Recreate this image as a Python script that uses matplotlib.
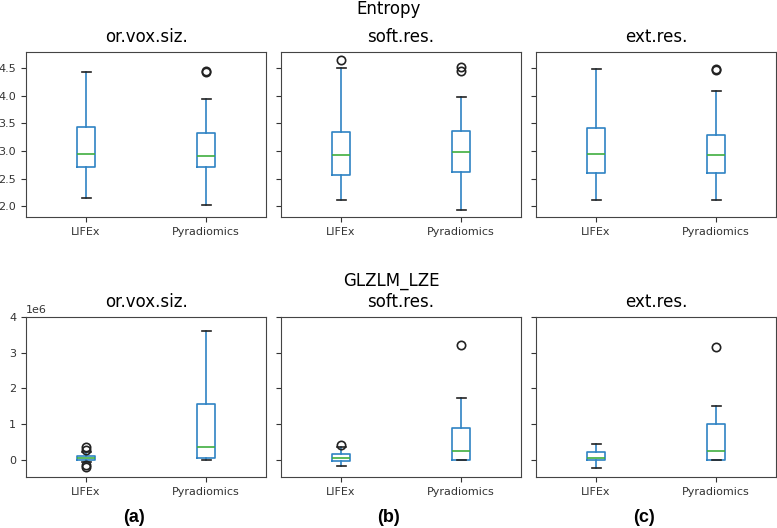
import matplotlib
matplotlib.use("Agg")
import matplotlib.pyplot as plt

# panel titles / groups
groups = ["LIFEx", "Pyradiomics"]
settings = ["or.vox.siz.", "soft.res.", "ext.res."]
panel_tags = ["(a)", "(b)", "(c)"]

# Entropy: per setting, per group -> (whislo, q1, med, q3, whishi, fliers)
entropy_lifex = [
    (2.15, 2.71, 2.95, 3.43, 4.43, []),
    (2.12, 2.57, 2.93, 3.34, 4.50, [4.65]),
    (2.12, 2.60, 2.94, 3.42, 4.48, []),
]
entropy_pyrad = [
    (2.02, 2.71, 2.92, 3.32, 3.95, [4.42, 4.44]),
    (1.93, 2.63, 2.98, 3.36, 3.98, [4.45, 4.52]),
    (2.12, 2.60, 2.93, 3.30, 4.09, [4.46, 4.48]),
]

# GLZLM_LZE (x1e6)
lze_lifex = [
    (-0.07, 0.00, 0.05, 0.12, 0.22, [0.28, 0.37, -0.14, -0.19]),
    (-0.18, -0.02, 0.05, 0.16, 0.36, [0.41]),
    (-0.22, 0.00, 0.04, 0.21, 0.44, []),
]
lze_pyrad = [
    (0.00, 0.05, 0.35, 1.57, 3.61, []),
    (0.00, 0.01, 0.26, 0.89, 1.73, [3.21]),
    (0.00, 0.01, 0.24, 1.00, 1.52, [3.16]),
]

W, H = 777, 528
fig = plt.figure(figsize=(W / 100, H / 100), dpi=100)

col_left = [26, 281, 536]
col_w = 240
rows = [(52, 217), (317, 477)]


def px_axes(x0, y0, y1):
    return fig.add_axes([x0 / W, 1 - y1 / H, col_w / W, (y1 - y0) / H])


def to_stats(entry, scale=1.0):
    lo, q1, med, q3, hi, fl = entry
    return dict(whislo=lo * scale, q1=q1 * scale, med=med * scale,
                q3=q3 * scale, whishi=hi * scale,
                fliers=[f * scale for f in fl])


blue = "#2f83c4"
green = "#3fae3f"


def draw_row(row, lifex, pyrad, scale, ylim, yticks):
    y0, y1 = rows[row]
    axes = []
    for i, name in enumerate(settings):
        ax = px_axes(col_left[i], y0, y1)
        stats = [to_stats(lifex[i], scale), to_stats(pyrad[i], scale)]
        ax.bxp(stats, positions=[1, 2], widths=0.15,
               boxprops=dict(color=blue, linewidth=1.2),
               whiskerprops=dict(color=blue, linewidth=1.2),
               medianprops=dict(color=green, linewidth=1.2),
               capprops=dict(color="#222222", linewidth=1.2),
               flierprops=dict(marker="o", markerfacecolor="none",
                               markeredgecolor="#222222", markersize=6,
                               markeredgewidth=1.2))
        ax.set_xlim(0.5, 2.5)
        ax.set_xticks([1, 2])
        ax.set_xticklabels(groups)
        ax.set_ylim(*ylim)
        ax.set_yticks(yticks)
        ax.tick_params(labelsize=8, colors="#333333")
        for sp in ax.spines.values():
            sp.set_color("#444444")
        ax.set_title(name, fontsize=12, pad=7)
        if i > 0:
            ax.tick_params(labelleft=False)
        axes.append(ax)
    return axes


top = draw_row(0, entropy_lifex, entropy_pyrad, 1.0, (1.81, 4.79),
               [2.0, 2.5, 3.0, 3.5, 4.0, 4.5])
bottom = draw_row(1, lze_lifex, lze_pyrad, 1e6, (-0.48e6, 4.0e6),
                  [0, 1e6, 2e6, 3e6, 4e6])
bottom[0].yaxis.get_offset_text().set_fontsize(8)

fig.text(389 / W, 1 - 9 / H, "Entropy", ha="center", va="center", fontsize=12)
fig.text(391 / W, 1 - 281 / H, "GLZLM_LZE", ha="center", va="center", fontsize=12)

for x, tag in zip([134, 389, 644], panel_tags):
    fig.text(x / W, 1 - 517 / H, tag, ha="center", va="center",
             fontsize=13, fontweight="bold", family="Liberation Sans")

fig.savefig("out.png", dpi=100)
